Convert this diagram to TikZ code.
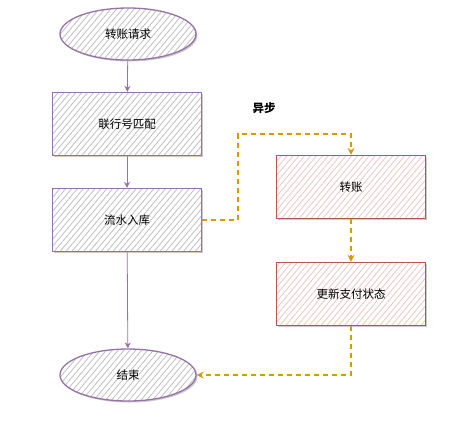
\documentclass[tikz,border=0pt]{standalone}
\usepackage{fontspec}
\setmainfont{Noto Sans CJK SC}
\usepackage{xcolor}
\usepackage{tikz}
\usetikzlibrary{shapes.geometric,arrows.meta,patterns.meta,shadows}
\definecolor{violet}{HTML}{9673A6}
\definecolor{brick}{HTML}{B85450}
\definecolor{amber}{HTML}{D79B00}
\tikzstyle{hatch}=[pattern={Lines[angle=50, distance=4.5pt, line width=0.8pt]}]
\tikzstyle{shade}=[drop shadow={shadow xshift=1.5pt, shadow yshift=-1.5pt, fill=black!35, opacity=0.6}, preaction={fill=white}]
\tikzstyle{oval}=[shape=ellipse, draw=violet, line width=1.3pt, shade, hatch, pattern color=black!25, minimum width=136pt, minimum height=52pt, font=\fontsize{11.5}{13}\selectfont]
\tikzstyle{step box}=[shape=rectangle, draw=violet, line width=1.3pt, shade, hatch, pattern color=black!25, minimum width=149pt, minimum height=63pt, font=\fontsize{11.5}{13}\selectfont]
\tikzstyle{async box}=[step box, draw=brick, pattern color=brick!32]
\tikzstyle{sync edge}=[-{Stealth[length=6pt, width=6pt]}, draw=violet, line width=0.8pt]
\tikzstyle{async edge}=[-{Stealth[length=7pt, width=7pt]}, draw=amber, line width=1.3pt, dash pattern=on 5pt off 4pt]
\pgfdeclarelayer{nodelayer}
\pgfdeclarelayer{edgelayer}
\pgfsetlayers{edgelayer,nodelayer}
\begin{document}
\begin{tikzpicture}[x=1pt, y=-1pt]
    	\useasboundingbox (0, 0) rectangle (473, 421);
    	\begin{pgfonlayer}{nodelayer}
    		\node [style=oval] (0) at (128, 34) {转账请求};
    		\node [style=step box] (1) at (127, 124) {联行号匹配};
    		\node [style=step box] (2) at (127, 220) {流水入库};
    		\node [style=oval] (3) at (128, 375) {结束};
    		\node [style=async box] (4) at (351, 187) {转账};
    		\node [style=async box] (5) at (351, 294) {更新支付状态};
    		\node [font=\fontsize{11.5}{13}\selectfont\bfseries] (6) at (264, 108) {异步};
    		\coordinate (7) at (238, 134);
    	\end{pgfonlayer}
    	\begin{pgfonlayer}{edgelayer}
    		\draw [style=sync edge] (0) to (1);
    		\draw [style=sync edge] (1) to (2);
    		\draw [style=sync edge] (2) to (3);
    		\draw [style=async edge] (2.east) -| (7) -| (4.north);
    		\draw [style=async edge] (4) to (5);
    		\draw [style=async edge] (5.south) |- (3.east);
    	\end{pgfonlayer}
    \end{tikzpicture}
\end{document}
